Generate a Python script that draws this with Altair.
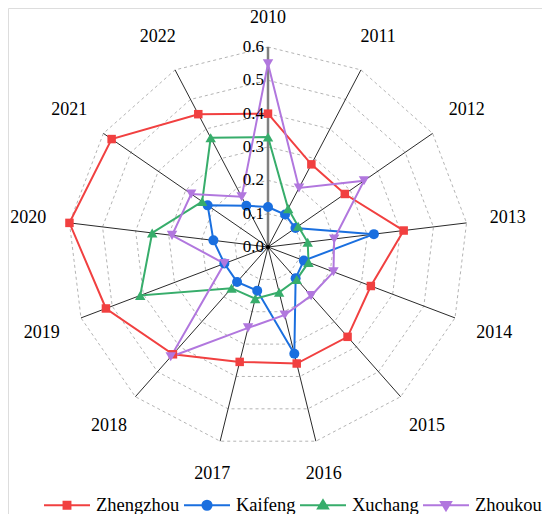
import altair as alt
import pandas as pd

years = ["2010", "2011", "2012", "2013", "2014", "2015", "2016",
         "2017", "2018", "2019", "2020", "2021", "2022"]
series_names = ["Zhengzhou", "Kaifeng", "Xuchang", "Zhoukou"]
zhengzhou = [0.40, 0.28, 0.28, 0.41, 0.33, 0.36, 0.36, 0.355, 0.43, 0.52, 0.60, 0.57, 0.45]
kaifeng = [0.12, 0.11, 0.10, 0.32, 0.115, 0.125, 0.33, 0.135, 0.14, 0.14, 0.165, 0.22, 0.14]
xuchang = [0.33, 0.13, 0.11, 0.12, 0.13, 0.13, 0.14, 0.16, 0.165, 0.41, 0.35, 0.24, 0.37]
zhoukou = [0.55, 0.20, 0.35, 0.20, 0.21, 0.195, 0.21, 0.25, 0.44, 0.14, 0.29, 0.28, 0.17]
ticks = [0.0, 0.1, 0.2, 0.3, 0.4, 0.5, 0.6]
colors = ["#F14040", "#1A6FDF", "#37AD6B", "#B177DE"]

FONT = "Liberation Serif, Times New Roman, Tinos, DejaVu Serif, Noto Serif, serif"
N = len(years)
RMAX = ticks[-1]

# legend symbols: line segment + filled marker (concentric rings to look filled)
def sq(k):
    return f"M{-k},{-k}L{k},{-k}L{k},{k}L{-k},{k}Z"

def circ(r):
    return f"M{r},0A{r},{r},0,1,1,{-r},0A{r},{r},0,1,1,{r},0Z"

def tri_up(k):
    return f"M0,{-0.22*k:.3f}L{0.22*k:.3f},{0.14*k:.3f}L{-0.22*k:.3f},{0.14*k:.3f}Z"

def tri_down(k):
    return f"M0,{0.22*k:.3f}L{0.22*k:.3f},{-0.14*k:.3f}L{-0.22*k:.3f},{-0.14*k:.3f}Z"

seg = "M-1,0L1,0"
legend_paths = [
    seg + "".join(sq(k) for k in [0.15, 0.10, 0.05, 0.01]),
    seg + "".join(circ(r) for r in [0.2, 0.14, 0.08, 0.03]),
    seg + "".join(tri_up(k) for k in [1.0, 0.66, 0.33, 0.05]),
    seg + "".join(tri_down(k) for k in [1.0, 0.66, 0.33, 0.05]),
]
point_shapes = ["square", "circle", "triangle-up", "triangle-down"]
point_sizes = [72, 100, 110, 110]

rows = []
for name, vals in zip(series_names, [zhengzhou, kaifeng, xuchang, zhoukou]):
    for i in range(N + 1):
        rows.append({"series": name, "idx": i, "v": vals[i % N]})
df = pd.DataFrame(rows)

grid_rows = []
for lev in ticks[1:]:
    for i in range(N + 1):
        grid_rows.append({"level": lev, "idx": i})
grid_df = pd.DataFrame(grid_rows)

cat_df = pd.DataFrame({"cat": years, "idx": list(range(N))})
tick_df = pd.DataFrame({"v": ticks})

TH = f"datum.idx * 2 * PI / {N}"

xs = alt.Scale(domain=[-0.78, 0.822], nice=False, zero=False)
ys = alt.Scale(domain=[-0.801, 0.717], nice=False, zero=False)
X = alt.X("x:Q", scale=xs, axis=None)
Y = alt.Y("y:Q", scale=ys, axis=None)
cscale = alt.Scale(domain=series_names, range=colors)

grid = alt.Chart(grid_df).transform_calculate(
    x=f"datum.level * sin({TH})", y=f"datum.level * cos({TH})"
).mark_line(color="#b4b4b4", strokeWidth=1, strokeDash=[3, 3]).encode(
    x=X, y=Y, detail="level:N", order="idx:Q"
)

spokes = alt.Chart(cat_df).transform_calculate(
    x="0", y="0",
    x2=f"{RMAX} * sin({TH})", y2=f"{RMAX} * cos({TH})"
).mark_rule().encode(
    x=X, y=Y, x2="x2:Q", y2="y2:Q",
    color=alt.condition(alt.datum.idx == 0, alt.value("#808080"), alt.value("#2a2a2a")),
    strokeWidth=alt.condition(alt.datum.idx == 0, alt.value(2.5), alt.value(1)),
)

center = alt.Chart(tick_df).transform_filter(alt.datum.v == 0).transform_calculate(
    x="0", y="datum.v"
).mark_point(filled=True, color="black", size=18, opacity=1).encode(x=X, y=Y)

tick_labels = alt.Chart(tick_df).transform_calculate(
    x="0", y="datum.v"
).mark_text(align="right", baseline="middle", dx=-4, font=FONT,
            fontSize=17, color="black").encode(
    x=X, y=Y, text=alt.Text("v:Q", format=".1f")
)

cat_labels = alt.Chart(cat_df).transform_calculate(
    rr=f"0.665 + 0.057 * abs(sin({TH})) + 0.022 * abs(cos({TH}))"
).transform_calculate(
    x=f"datum.rr * sin({TH})", y=f"datum.rr * cos({TH})"
).mark_text(align="center", baseline="middle", font=FONT,
            fontSize=18, color="black").encode(x=X, y=Y, text="cat:N")

base = alt.Chart(df).transform_calculate(
    x=f"datum.v * sin({TH})", y=f"datum.v * cos({TH})"
)

lines = base.mark_line(strokeWidth=2).encode(
    x=X, y=Y, order="idx:Q",
    color=alt.Color("series:N", scale=cscale, legend=None),
)

point_layers = []
for name, shp, sz in zip(series_names, point_shapes, point_sizes):
    point_layers.append(
        base.transform_filter(alt.datum.series == name).transform_filter(alt.datum.idx < N)
        .mark_point(filled=True, shape=shp, size=sz, opacity=1).encode(
            x=X, y=Y, color=alt.Color("series:N", scale=cscale, legend=None)
        )
    )

leg = alt.Legend(title=None, orient="none", legendX=35, legendY=473,
                 direction="horizontal", symbolSize=2116, symbolStrokeWidth=2,
                 symbolOpacity=1, labelFont=FONT, labelFontSize=18.5,
                 labelColor="black", labelOffset=5, columnPadding=0, padding=0)

# legend-only layer (draws nothing); placed first so its legend settings win
legend_layer = base.transform_filter("false").mark_point(filled=False).encode(
    x=X, y=Y,
    color=alt.Color("series:N", scale=cscale, legend=leg),
    shape=alt.Shape("series:N", scale=alt.Scale(domain=series_names, range=legend_paths), legend=leg),
)

chart = alt.layer(legend_layer, grid, spokes, center, lines, *point_layers, tick_labels, cat_labels).properties(
    width=534, height=506,
    autosize=alt.AutoSizeParams(type="none"),
    padding=0,
).configure_view(stroke=None).configure(font=FONT)

chart.save("out.html", embed_options={"renderer": "svg", "actions": False})
